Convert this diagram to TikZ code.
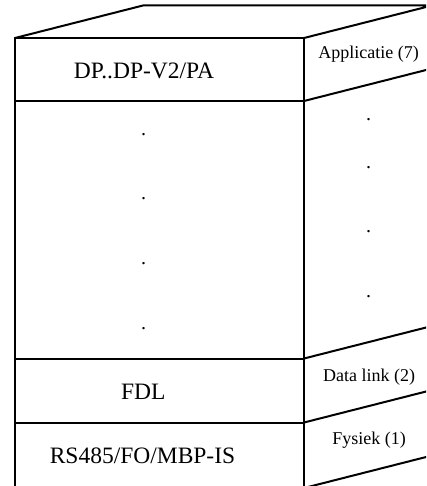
\documentclass[tikz,border=0pt]{standalone}
\usepackage{fontspec}
\setmainfont{Liberation Serif}
\usetikzlibrary{calc}
\begin{document}
\begin{tikzpicture}[x=1pt,y=-1pt,
  edge/.style={line width=2pt, line join=miter},
  layertext/.style={font=\fontsize{23.5}{28}\selectfont, anchor=base, inner sep=0pt},
  sidetext/.style={font=\fontsize{18}{21}\selectfont, anchor=base, inner sep=0pt},
  dotmark/.style={font=\fontsize{20}{24}\selectfont, anchor=base, inner sep=0pt}]
\useasboundingbox (0,0) rectangle (426,486);
\clip (0,0) rectangle (426,486);

% front face corners and layer boundaries
\coordinate (ftl) at (15,38);
\coordinate (ftr) at (304,38);
\coordinate (fbl) at (15,488);
\coordinate (fbr) at (304,488);
\coordinate (l1) at (15,101);
\coordinate (r1) at (304,101);
\coordinate (l2) at (15,358.5);
\coordinate (r2) at (304,358.5);
\coordinate (l3) at (15,422.5);
\coordinate (r3) at (304,422.5);

% back corners (depth offset)
\coordinate (btl) at ($(ftl)+(128,-32.5)$);
\coordinate (btr) at ($(ftr)+(128,-32.5)$);

% front face
\draw[edge] (ftl) rectangle (fbr);
\draw[edge] (l1) -- (r1);
\draw[edge] (l2) -- (r2);
\draw[edge] (l3) -- (r3);

% top face
\draw[edge] (ftl) -- (btl) -- (btr) -- (ftr);

% side face: layer edges receding
\foreach \p in {r1,r2,r3,fbr}
  \draw[edge] (\p) -- ++(128,-32.5);

% layer names on the front
\node[layertext] (app) at (144,78.3) {DP..DP-V2/PA};
\node[layertext] (fdl) at (143.3,399.3) {FDL};
\node[layertext] (phy) at (142.5,463.3) {RS485/FO/MBP-IS};

% omitted layers
\node[dotmark] (d1) at (143.7,136) {.};
\node[dotmark] (d2) at (143.7,200) {.};
\node[dotmark] (d3) at (143.7,264) {.};
\node[dotmark] (d4) at (143.7,329) {.};

% OSI layer names on the side
\node[sidetext] (s7) at (368.5,59) {Applicatie (7)};
\node[sidetext] (s2) at (369,381) {Data link (2)};
\node[sidetext] (s1) at (369,444) {Fysiek (1)};

\node[dotmark] (e1) at (368.7,120.5) {.};
\node[dotmark] (e2) at (368.7,168) {.};
\node[dotmark] (e3) at (368.7,232) {.};
\node[dotmark] (e4) at (368.7,297) {.};
\end{tikzpicture}
\end{document}
